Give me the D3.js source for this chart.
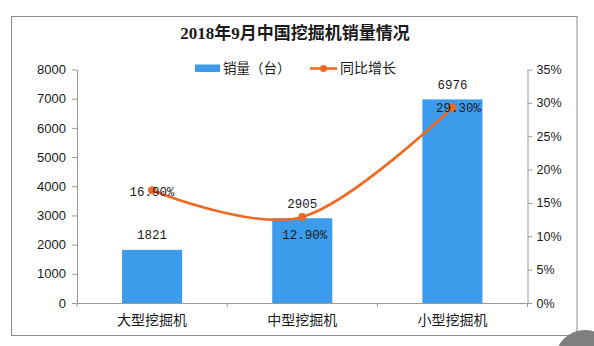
<!DOCTYPE html>
<html>
<head>
<meta charset="utf-8">
<script src="https://cdn.jsdelivr.net/npm/d3@7"></script>
<style>
  html, body { margin: 0; padding: 0; background: #fff; }
  svg { display: block; }
</style>
</head>
<body>
<svg id="chart" width="594" height="346"></svg>
<script>
// ---- data ----
const title = "2018年9月中国挖掘机销量情况";
const categories = ["大型挖掘机", "中型挖掘机", "小型挖掘机"];
const sales = [1821, 2905, 6976];
const growth = [16.9, 12.9, 29.3];
const growthLabels = ["16.90%", "12.90%", "29.30%"];
const leftTicks = [0, 1000, 2000, 3000, 4000, 5000, 6000, 7000, 8000];
const rightTicks = [0, 5, 10, 15, 20, 25, 30, 35];
const legendNames = ["销量（台）", "同比增长"];

// ---- style ----
const barColor = "#3d9bec";
const lineColor = "#ee6a22";
const axisColor = "#9a9a9a";
const textColor = "#1a1a1a";
const pctLabelOffset = [[0, 1], [2.5, 18], [6, 0]];

const svg = d3.select("#chart");

// frame
svg.append("rect").attr("x", 11.5).attr("y", 16.5).attr("width", 565.5).attr("height", 319)
  .attr("fill", "#fff").attr("stroke", "#8c8c8c").attr("stroke-width", 1);

// corner circle
svg.append("circle").attr("cx", 585).attr("cy", 360).attr("r", 30).attr("fill", "#7f7f7f");

const x = d3.scaleBand().domain(categories).range([77, 527.5]).paddingInner(0.6).paddingOuter(0.3);
const yL = d3.scaleLinear().domain([0, 8000]).range([303, 69.5]);
const yR = d3.scaleLinear().domain([0, 35]).range([303, 69.5]);

// title
svg.append("text").attr("x", 295).attr("y", 39).attr("text-anchor", "middle")
  .attr("font-family", "'Liberation Serif', 'Noto Sans CJK SC', serif")
  .attr("font-weight", "bold").attr("font-size", 17).attr("fill", textColor)
  .text(title);

// left axis
const gL = svg.append("g").attr("transform", "translate(77,0)")
  .call(d3.axisLeft(yL).tickValues(leftTicks).tickSize(5).tickSizeOuter(0).tickPadding(6).tickFormat(d3.format("d")));
// right axis
const gR = svg.append("g").attr("transform", "translate(527.5,0)")
  .call(d3.axisRight(yR).tickValues(rightTicks).tickSize(5).tickSizeOuter(0).tickPadding(4).tickFormat(d => d + "%"));
// bottom axis
const gB = svg.append("g").attr("transform", "translate(0,303)")
  .call(d3.axisBottom(x).tickSize(0).tickSizeOuter(0).tickPadding(12));

[gL, gR, gB].forEach(g => {
  g.select(".domain").attr("stroke", axisColor);
  g.selectAll(".tick line").attr("stroke", axisColor);
  g.selectAll("text").attr("fill", textColor);
});
gL.selectAll("text").attr("font-family", "'Liberation Sans', Arial, sans-serif").attr("font-size", 13);
gR.selectAll("text").attr("font-family", "'Liberation Sans', Arial, sans-serif").attr("font-size", 12.5);
gB.selectAll("text").attr("font-family", "'Noto Sans CJK SC', sans-serif").attr("font-size", 14).attr("dy", "0.71em");

// category boundary ticks
const bounds = categories.map(c => x(c) - (x.step() - x.bandwidth()) / 2);
bounds.push(x.range()[1]);
svg.append("g").selectAll("line").data(bounds).join("line")
  .attr("x1", d => d).attr("x2", d => d).attr("y1", 303).attr("y2", 307)
  .attr("stroke", axisColor);

// bars
svg.append("g").selectAll("rect").data(sales).join("rect")
  .attr("x", (d, i) => x(categories[i]))
  .attr("y", d => yL(d))
  .attr("width", x.bandwidth())
  .attr("height", d => yL(0) - yL(d))
  .attr("fill", barColor);

// bar labels
svg.append("g").selectAll("text").data(sales).join("text")
  .attr("x", (d, i) => x(categories[i]) + x.bandwidth() / 2)
  .attr("y", d => yL(d) - 10.5)
  .attr("text-anchor", "middle")
  .attr("font-family", "'Liberation Mono', 'DejaVu Sans Mono', monospace")
  .attr("font-size", 12.5).attr("fill", textColor)
  .text(d => d);

// line
const cx = i => x(categories[i]) + x.bandwidth() / 2;
const line = d3.line().x((d, i) => cx(i)).y(d => yR(d)).curve(d3.curveCardinal.tension(0));
svg.append("path").datum(growth).attr("d", line)
  .attr("fill", "none").attr("stroke", lineColor).attr("stroke-width", 2.6);
svg.append("g").selectAll("circle").data(growth).join("circle")
  .attr("cx", (d, i) => cx(i)).attr("cy", d => yR(d)).attr("r", 4)
  .attr("fill", lineColor);

// pct labels
svg.append("g").selectAll("text").data(growth).join("text")
  .attr("x", (d, i) => cx(i) + pctLabelOffset[i][0])
  .attr("y", (d, i) => yR(d) + pctLabelOffset[i][1] + 4.5)
  .attr("text-anchor", "middle")
  .attr("font-family", "'Liberation Mono', 'DejaVu Sans Mono', monospace")
  .attr("font-size", 12.5).attr("fill", textColor)
  .text((d, i) => growthLabels[i]);

// legend
const lg = svg.append("g");
lg.append("rect").attr("x", 195).attr("y", 64.5).attr("width", 25).attr("height", 7.5).attr("fill", barColor);
lg.append("text").attr("x", 223).attr("y", 73).attr("font-family", "'Noto Sans CJK SC', sans-serif")
  .attr("font-size", 13.5).attr("fill", textColor).text(legendNames[0]);
lg.append("line").attr("x1", 310).attr("x2", 337).attr("y1", 68.5).attr("y2", 68.5)
  .attr("stroke", lineColor).attr("stroke-width", 2.6);
lg.append("circle").attr("cx", 323.5).attr("cy", 68.5).attr("r", 3.5).attr("fill", lineColor);
lg.append("text").attr("x", 340).attr("y", 73).attr("font-family", "'Noto Sans CJK SC', sans-serif")
  .attr("font-size", 14).attr("fill", textColor).text(legendNames[1]);
</script>
</body>
</html>
